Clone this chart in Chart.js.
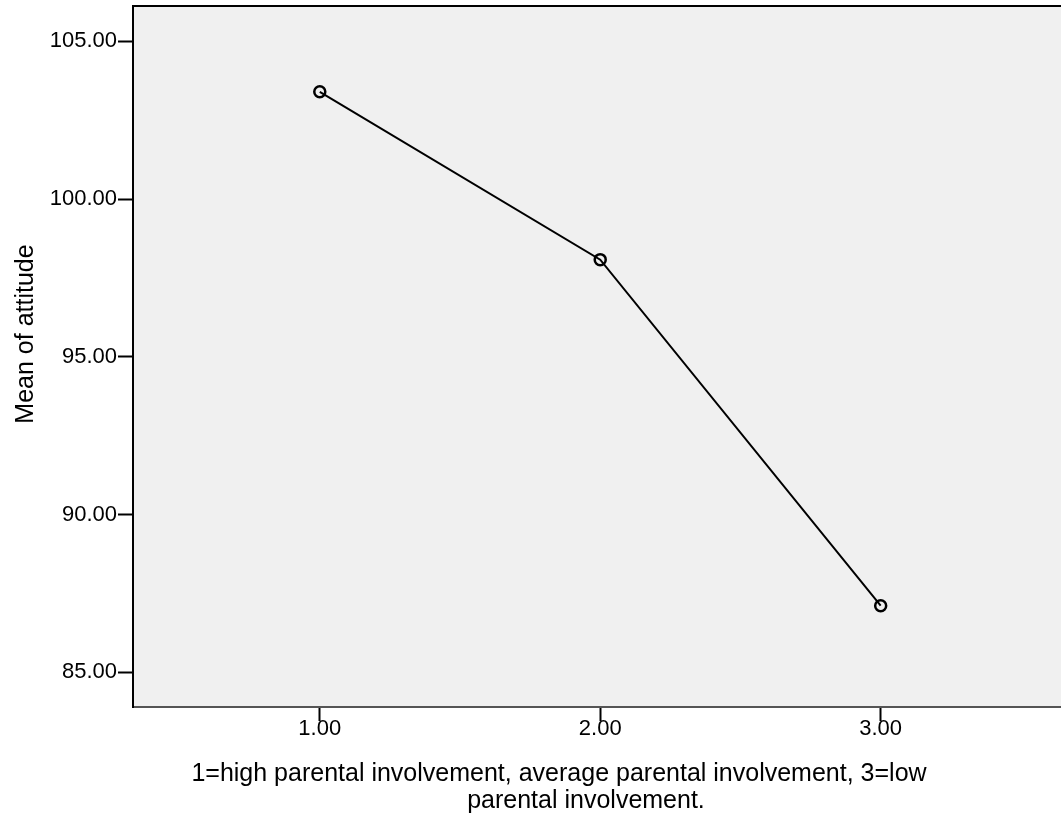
<!DOCTYPE html>
<html>
<head>
<meta charset="utf-8">
<script src="https://cdn.jsdelivr.net/npm/chart.js@4"></script>
<style>
  html, body { margin: 0; padding: 0; background: #ffffff; }
  #wrap { width: 1061px; height: 817px; }
</style>
</head>
<body>
<div id="wrap"><canvas id="c" width="1061" height="817"></canvas></div>
<script>
// ---- data ----
const categories = [1, 2, 3];
const meanAttitude = [103.40, 98.08, 87.11];
const xTickValues = [1, 2, 3];
const yTickValues = [85, 90, 95, 100, 105];
const xTitleLines = ["1=high parental involvement, average parental involvement, 3=low", "parental involvement."];
const yTitle = "Mean of attitude";

const FONT = "'Liberation Sans', Arial, sans-serif";

const plotDecor = {
  id: 'plotDecor',
  beforeDraw(chart) {
    const { ctx, chartArea: a } = chart;
    ctx.save();
    ctx.fillStyle = '#f0f0f0';
    ctx.fillRect(a.left, a.top, a.right - a.left, a.bottom - a.top);
    ctx.restore();
  },
  afterDraw(chart) {
    const { ctx, chartArea: a } = chart;
    ctx.save();
    ctx.strokeStyle = '#000';
    ctx.lineWidth = 2;
    ctx.beginPath();
    ctx.moveTo(a.left, a.top);
    ctx.lineTo(a.right, a.top);
    ctx.stroke();
    ctx.fillStyle = '#000';
    ctx.font = '25px ' + FONT;
    ctx.textAlign = 'center';
    ctx.textBaseline = 'alphabetic';
    ctx.fillText(xTitleLines[0], 559, 781);
    ctx.fillText(xTitleLines[1], 586, 808);
    ctx.translate(33, 334);
    ctx.rotate(-Math.PI / 2);
    ctx.fillText(yTitle, 0, 0);
    ctx.restore();
  }
};

new Chart(document.getElementById('c'), {
  type: 'line',
  data: {
    datasets: [{
      data: categories.map((c, i) => ({ x: c, y: meanAttitude[i] })),
      borderColor: '#000',
      borderWidth: 2,
      tension: 0,
      pointRadius: 5.5,
      pointBorderWidth: 2.5,
      pointBorderColor: '#000',
      pointBackgroundColor: 'rgba(0,0,0,0)',
      fill: false
    }]
  },
  options: {
    responsive: false,
    devicePixelRatio: 1,
    animation: false,
    layout: { autoPadding: false, padding: { top: 6, right: 0, left: 0, bottom: 0 } },
    plugins: { legend: { display: false }, tooltip: { enabled: false }, title: { display: false } },
    scales: {
      x: {
        type: 'linear',
        min: 0.334,
        max: 3.643,
        afterBuildTicks(scale) { scale.ticks = xTickValues.map(v => ({ value: v })); },
        afterFit(scale) { scale.height = 110; scale.paddingLeft = 0; scale.paddingRight = 0; },
        ticks: {
          color: '#000',
          font: { family: FONT, size: 22 },
          padding: -5,
          maxRotation: 0,
          callback: v => Number(v).toFixed(2)
        },
        grid: { drawOnChartArea: false, drawTicks: true, tickLength: 14, tickColor: '#000', tickWidth: 2 },
        border: { display: true, color: '#555', width: 2 }
      },
      y: {
        min: 83.9,
        max: 106.12,
        afterBuildTicks(scale) { scale.ticks = yTickValues.map(v => ({ value: v })); },
        afterFit(scale) { scale.width = 133; scale.paddingTop = 0; scale.paddingBottom = 0; },
        ticks: {
          color: '#000',
          font: { family: FONT, size: 22 },
          padding: 1,
          callback: v => Number(v).toFixed(2)
        },
        grid: { drawOnChartArea: false, drawTicks: true, tickLength: 15, tickColor: '#000', tickWidth: 2 },
        border: { display: true, color: '#000', width: 2 }
      }
    }
  },
  plugins: [plotDecor]
});
</script>
</body>
</html>
